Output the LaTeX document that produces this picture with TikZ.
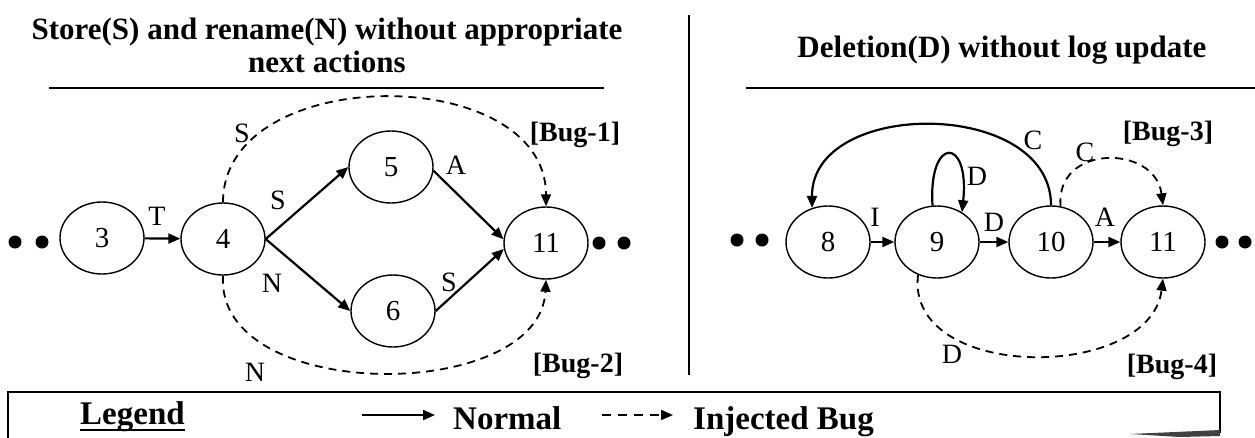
\documentclass[tikz,border=0pt]{standalone}
\usepackage{fontspec}
\setmainfont{Liberation Serif}
\usetikzlibrary{arrows.meta,shapes.geometric}

\begin{document}
\begin{tikzpicture}[x=1pt,y=-1pt,
  state/.style={ellipse,draw,line width=1.4pt,minimum width=84pt,minimum height=72pt,
                inner sep=0pt,font=\fontsize{29}{31}\selectfont},
  flow/.style={line width=2.2pt,-{Triangle[length=12pt,width=10pt]}},
  bug/.style={line width=1.8pt,dash pattern=on 8pt off 6pt,-{Triangle[length=12pt,width=10pt]}},
  lbl/.style={font=\fontsize{28}{30}\selectfont,inner sep=0pt},
  buglbl/.style={font=\bfseries\fontsize{28}{30}\selectfont,inner sep=0pt},
  dot/.style={circle,fill,inner sep=0pt,minimum size=13pt},
  title/.style={font=\bfseries\fontsize{31}{33}\selectfont,align=center,inner sep=0pt},
  legtext/.style={font=\bfseries\fontsize{33}{35}\selectfont,inner sep=0pt,anchor=base west},
]
\useasboundingbox (0,0) rectangle (1255,437);

% ---------- headings and separators ----------
\node[title] (t1) at (327,45) {Store(S) and rename(N) without appropriate\\next actions};
\draw[line width=1.8pt] (49,88) -- (604,88);
\node[title] (t2) at (1002,50) {Deletion(D) without log update};
\draw[line width=1.8pt] (746,88) -- (1255,88);
\draw[line width=1.5pt] (689,15) -- (689,375);

% ---------- left graph ----------
\node[dot] (dl1) at (15,242) {};
\node[dot] (dl2) at (42,242) {};
\node[state] (n3) at (102,238) {3};
\node[state] (n4) at (223,239) {4};
\node[state] (n5) at (391,167) {5};
\node[state] (n6) at (393,311) {6};
\node[state] (n11a) at (546,243) {11};
\node[dot] (dl3) at (599,243) {};
\node[dot] (dl4) at (624,243) {};

\draw[flow] (n3) -- (n4);
\draw[flow] (n4.east) -- (n5.west);
\draw[flow] (n4.east) -- (n6.west);
\draw[flow] (n5.-5) -- (n11a.175);
\draw[flow] (n6.east) -- (n11a.188);
\draw[bug] (n4.north) .. controls (223,62) and (546,62) .. (n11a.north);
\draw[bug] (n4.south) .. controls (215,404) and (540,404) .. (n11a.south);

\node[lbl] (lT) at (157,216) {T};
\node[lbl] (lS1) at (278,200) {S};
\node[lbl] (lN1) at (272,283) {N};
\node[lbl] (lA1) at (456,165) {A};
\node[lbl] (lS2) at (449,282) {S};
\node[lbl] (lS3) at (242,133) {S};
\node[lbl] (lN3) at (255,372) {N};
\node[buglbl] (b1) at (575,135) {[Bug-1]};
\node[buglbl] (b2) at (578,366) {[Bug-2]};

% ---------- right graph ----------
\node[dot] (dr1) at (737,240) {};
\node[dot] (dr2) at (762,240) {};
\node[state] (n8) at (828,242) {8};
\node[state] (n9) at (937,242) {9};
\node[state] (n10) at (1051,242) {10};
\node[state] (n11b) at (1163,242) {11};
\node[dot] (dr3) at (1222,242) {};
\node[dot] (dr4) at (1245,242) {};

\draw[flow] (n8) -- (n9);
\draw[flow] (n9) -- (n10);
\draw[flow] (n10) -- (n11b);
\draw[flow] (n9.97) .. controls (928,136) and (970,136) .. (n9.50);
\draw[flow] (n10.north) .. controls (1051,98) and (811,98) .. (n8.115);
\draw[bug] (n10.75) .. controls (1055,144) and (1155,144) .. (n11b.north);
\draw[bug] (n9.240) .. controls (905,382) and (1150,382) .. (n11b.south);

\node[lbl] (lI) at (875,217) {I};
\node[lbl] (lD1) at (977,176) {D};
\node[lbl] (lD2) at (994,222) {D};
\node[lbl] (lA2) at (1105,217) {A};
\node[lbl] (lC1) at (1033,140) {C};
\node[lbl] (lC2) at (1085,152) {C};
\node[lbl] (lD3) at (952,354) {D};
\node[buglbl] (b3) at (1168,134) {[Bug-3]};
\node[buglbl] (b4) at (1172,367) {[Bug-4]};

% ---------- legend ----------
\draw[line width=2pt] (8,450) -- (8,392) -- (1220,392) -- (1220,433);
\fill[black!75] (1130,434) -- (1220,430) -- (1220,436) -- (1180,437) -- cycle;
\node[legtext] (leg) at (80,424) {Legend};
\draw[line width=2.8pt] ([yshift=-6pt]leg.base west) -- ([yshift=-6pt]leg.base east);
\coordinate (la1) at (362,415);
\coordinate (la2) at (435,415);
\coordinate (lb1) at (602,415);
\coordinate (lb2) at (673,415);
\draw[flow] (la1) -- (la2);
\draw[bug,dash pattern=on 9pt off 7pt] (lb1) -- (lb2);
\node[legtext] (lnorm) at (453,429) {Normal};
\node[legtext] (lbug) at (693,429) {Injected Bug};
\end{tikzpicture}
\end{document}
